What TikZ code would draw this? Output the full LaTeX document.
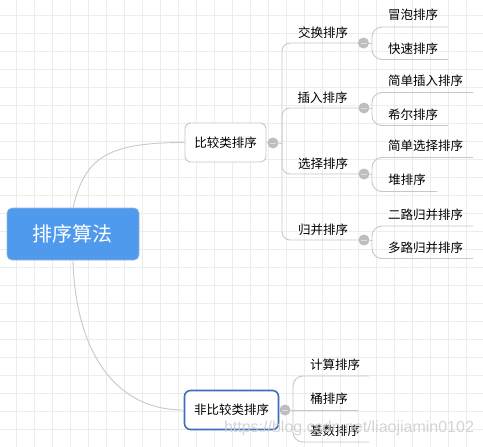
\documentclass[tikz,border=0pt]{standalone}
\usepackage{fontspec}
\setmainfont{Liberation Sans}
\newfontfamily\cjk{Noto Sans CJK SC}
\definecolor{gridc}{RGB}{236,236,236}
\definecolor{linec}{RGB}{200,200,200}
\definecolor{rootfill}{RGB}{80,154,237}
\definecolor{rootdraw}{RGB}{150,180,220}
\definecolor{boxdraw}{RGB}{200,200,200}
\definecolor{bluedraw}{RGB}{62,108,190}
\definecolor{foldc}{RGB}{190,190,190}
\definecolor{wmark}{RGB}{205,205,205}
\begin{document}
\begin{tikzpicture}[x=1pt,y=-1pt,
  gridline/.style={draw=gridc,line width=0.9pt},
  conn/.style={draw=linec,line width=0.9pt},
  rootbox/.style={fill=rootfill,draw=rootdraw,line width=0.6pt,rounded corners=5pt,
    minimum width=132pt,minimum height=52pt,inner sep=0pt,text=white,font=\cjk\fontsize{20}{24}\selectfont},
  midbox/.style={fill=white,draw=boxdraw,line width=0.9pt,rounded corners=6pt,
    minimum height=39pt,inner sep=0pt,font=\cjk\fontsize{12.5}{15}\selectfont},
  bluebox/.style={midbox,draw=bluedraw,line width=1.6pt},
  fold/.style={circle,fill=foldc,minimum size=11pt,inner sep=0pt},
  txt/.style={inner sep=0pt,font=\cjk\fontsize{12.5}{15}\selectfont,text=black},
]
\useasboundingbox (0,0) rectangle (483,447);
\fill[white] (0,0) rectangle (483,447);
\foreach \x in {16,34,...,484} \draw[gridline] (\x,0) -- (\x,447);
\foreach \y in {15,33,...,447} \draw[gridline] (0,\y) -- (483,\y);

% main nodes
\node[rootbox] (root) at (73,234) {排序算法};
\node[midbox,minimum width=81pt] (cmp) at (225.5,142.5) {比较类排序};
\node[bluebox,minimum width=94pt] (ncmp) at (231.5,410) {非比较类排序};

% root connectors
\draw[conn] (root.north) .. controls +(12,-50) and +(-78,0) .. (cmp.west);
\draw[conn] (root.south) .. controls +(2,80) and +(-76,0) .. (ncmp.west);

% ---------- comparison sorts ----------
\node[fold] (f1) at (273,143) {};
\coordinate (b1) at (282,143);
\draw[conn] (cmp.east) -- (f1);
\draw[conn] (f1) -- (b1);

\node[txt] (c1) at (323,33) {交换排序};
\node[txt] (c2) at (322.5,97.5) {插入排序};
\node[txt] (c3) at (323,163.5) {选择排序};
\node[txt] (c4) at (323,229.5) {归并排序};
\node[fold] (g1) at (363.5,43) {};
\node[fold] (g2) at (364,108) {};
\node[fold] (g3) at (364,174) {};
\node[fold] (g4) at (364,240) {};
\draw[conn,rounded corners=8pt] (b1) |- (g1);
\draw[conn,rounded corners=8pt] (b1) |- (g2);
\draw[conn,rounded corners=8pt] (b1) |- (g3);
\draw[conn,rounded corners=8pt] (b1) |- (g4);

\coordinate (h1) at (372,43);
\coordinate (h2) at (372,108);
\coordinate (h3) at (372,174);
\coordinate (h4) at (372,240);
\foreach \i in {1,2,3,4} \draw[conn] (g\i) -- (h\i);

% leaves
\node[txt] (l1) at (413,15) {冒泡排序};
\node[txt] (l2) at (413,49) {快速排序};
\node[txt] (l3) at (425.5,81) {简单插入排序};
\node[txt] (l4) at (413,115) {希尔排序};
\node[txt] (l5) at (425.5,146) {简单选择排序};
\node[txt] (l6) at (407,180) {堆排序};
\node[txt] (l7) at (425.5,214.5) {二路归并排序};
\node[txt] (l8) at (425.5,247.5) {多路归并排序};
\coordinate (e1) at (448,27);
\coordinate (e2) at (448,59.5);
\coordinate (e3) at (473,92.5);
\coordinate (e4) at (448,125.5);
\coordinate (e5) at (473,157.5);
\coordinate (e6) at (437,191.5);
\coordinate (e7) at (473,226);
\coordinate (e8) at (473,258.5);
\draw[conn,rounded corners=10pt] (h1) |- (e1);
\draw[conn,rounded corners=10pt] (h1) |- (e2);
\draw[conn,rounded corners=10pt] (h2) |- (e3);
\draw[conn,rounded corners=10pt] (h2) |- (e4);
\draw[conn,rounded corners=10pt] (h3) |- (e5);
\draw[conn,rounded corners=10pt] (h3) |- (e6);
\draw[conn,rounded corners=10pt] (h4) |- (e7);
\draw[conn,rounded corners=10pt] (h4) |- (e8);

% ---------- non-comparison sorts ----------
\node[fold] (f2) at (285,410) {};
\coordinate (b2) at (293,410);
\draw[conn] (ncmp.east) -- (f2);
\draw[conn] (f2) -- (b2);
\node[txt] (n1) at (335,365) {计算排序};
\node[txt] (n2) at (329,399) {桶排序};
\node[txt] (n3) at (335,430.5) {基数排序};
\coordinate (m1) at (369,376);
\coordinate (m2) at (358,410);
\coordinate (m3) at (369,442);
\draw[conn,rounded corners=10pt] (b2) |- (m1);
\draw[conn] (b2) -- (m2);
\draw[conn,rounded corners=10pt] (b2) |- (m3);

% fold minus marks
\foreach \f in {f1,f2,g1,g2,g3,g4}
  \draw[white,opacity=0.5,line width=0.8pt] ([xshift=-3pt]\f.center) -- ([xshift=3pt]\f.center);

% watermark
\node[inner sep=0pt,text=wmark,opacity=0.85,font=\fontsize{16}{18}\selectfont] (wm) at (349,428) {https://blog.csdn.net/liaojiamin0102};
\end{tikzpicture}
\end{document}
